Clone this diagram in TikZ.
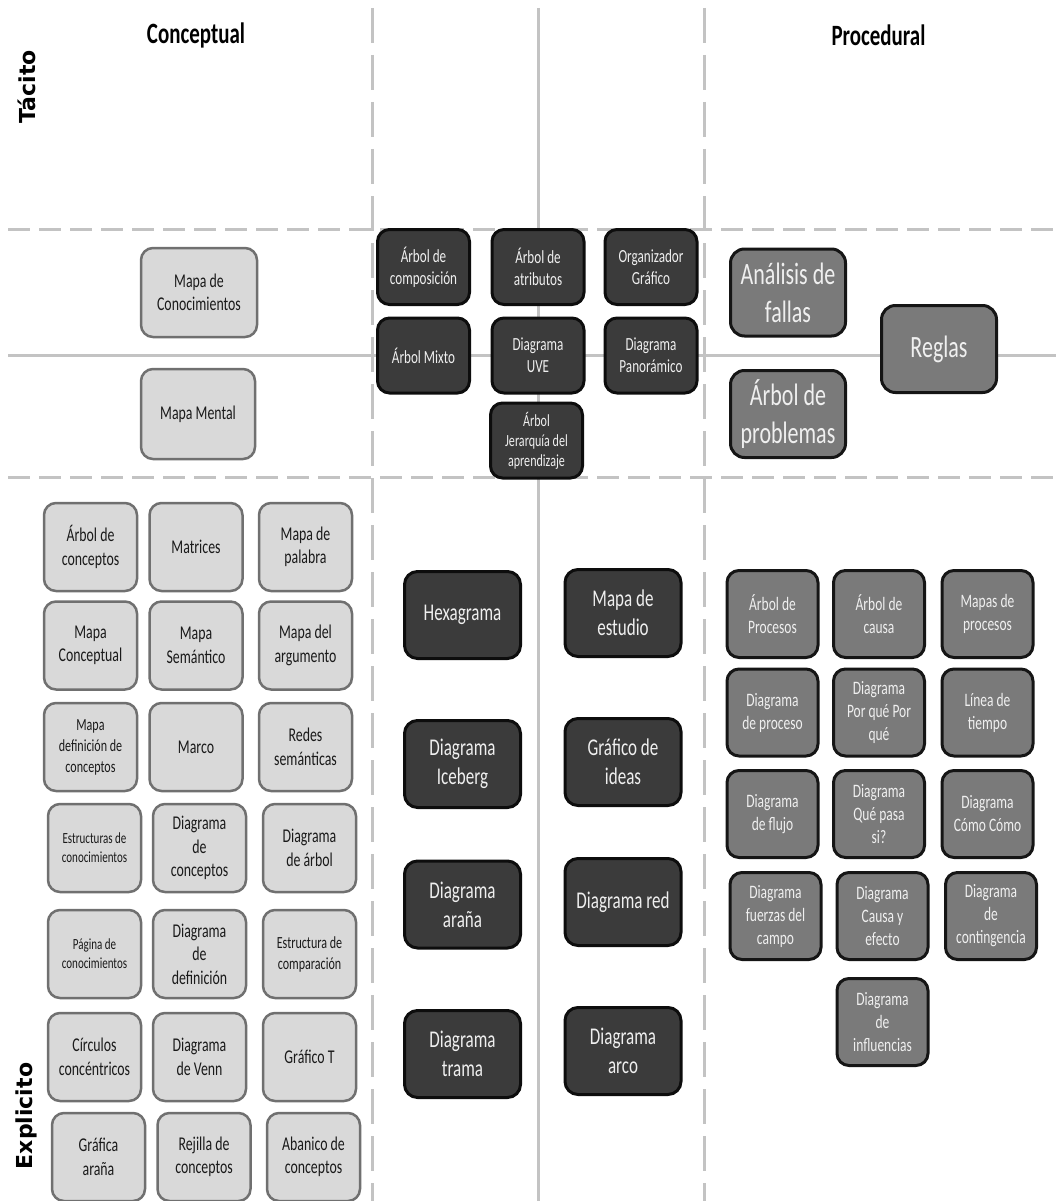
\documentclass[tikz,border=0pt]{standalone}
\usepackage{fontspec}
\setmainfont{Carlito}[FakeStretch=0.71]
\newfontfamily\labfont{DejaVu Sans}
\definecolor{lbfill}{HTML}{D9D9D9}
\definecolor{lbdraw}{HTML}{707070}
\definecolor{dkfill}{HTML}{3B3B3B}
\definecolor{dkdraw}{HTML}{0D0D0D}
\definecolor{mdfill}{HTML}{7A7A7A}
\definecolor{mddraw}{HTML}{151515}
\definecolor{gridline}{HTML}{C3C3C3}
\definecolor{txtdark}{HTML}{1A1A1A}
\definecolor{txtlight}{HTML}{EFEFEF}
\begin{document}
\begin{tikzpicture}[x=1pt,y=-1pt,
  hdash/.style={draw=gridline, line width=3pt, dash pattern=on 22pt off 9pt},
  vdash/.style={draw=gridline, line width=3pt, dash pattern=on 35pt off 12pt},
  solidline/.style={draw=gridline, line width=3pt},
  lbox/.style={draw=lbdraw, fill=lbfill, line width=2.5pt, rounded corners=12pt,
    minimum width=93pt, minimum height=88pt, align=center, text=txtdark, inner sep=1pt,
    font=\fontsize{19.5}{23.5}\selectfont},
  lsmall/.style={font=\fontsize{15.5}{19}\selectfont},
  lmid/.style={font=\fontsize{17}{21}\selectfont},
  dtop/.style={draw=dkdraw, fill=dkfill, line width=3pt, rounded corners=12pt,
    minimum width=92pt, minimum height=75pt, align=center, text=txtlight, inner sep=1pt,
    font=\fontsize{18.5}{22}\selectfont},
  dbig/.style={draw=dkdraw, fill=dkfill, line width=3pt, rounded corners=13pt,
    minimum width=116pt, minimum height=87pt, align=center, text=txtlight, inner sep=1pt,
    font=\fontsize{24}{29}\selectfont},
  mbig/.style={draw=mddraw, fill=mdfill, line width=3pt, rounded corners=14pt,
    minimum width=115pt, minimum height=87pt, align=center, text=txtlight, inner sep=1pt,
    font=\fontsize{31}{38}\selectfont},
  mbox/.style={draw=mddraw, fill=mdfill, line width=3pt, rounded corners=12pt,
    minimum width=91pt, minimum height=87pt, align=center, text=txtlight, inner sep=1pt,
    font=\fontsize{19}{23}\selectfont},
  title/.style={font=\fontsize{29.5}{34}\selectfont\bfseries, text=black},
  sidelab/.style={font=\labfont\fontsize{22}{26}\selectfont\bfseries, text=black, rotate=90}
]
\useasboundingbox (0,0) rectangle (1056,1201);
\fill[white] (0,0) rectangle (1056,1201);

% grid lines
\coordinate (hA1) at (8,229);   \coordinate (hA2) at (1056,229);
\coordinate (hB1) at (8,355);   \coordinate (hB2) at (1056,355);
\coordinate (hC1) at (8,477);   \coordinate (hC2) at (1056,477);
\coordinate (vA1) at (372,8);   \coordinate (vA2) at (372,1201);
\coordinate (vB1) at (538,8);   \coordinate (vB2) at (538,1201);
\coordinate (vC1) at (704.5,8); \coordinate (vC2) at (704.5,1201);
\draw[hdash] (hA1) -- (hA2);
\draw[solidline] (hB1) -- (hB2);
\draw[hdash] (hC1) -- (hC2);
\draw[vdash] (vA1) -- (vA2);
\draw[solidline] (vB1) -- (vB2);
\draw[vdash] (vC1) -- (vC2);

% titles
\node[title] (tConc) at (196,35) {Conceptual};
\node[title] (tProc) at (878.5,35) {Procedural};
\node[sidelab] (tTac) at (27,87) {Tácito};
\node[sidelab] (tExp) at (26,1116) {Explicito};

% tacit-explicit light boxes
\node[lbox, minimum width=116pt, minimum height=89pt] (mapcon) at (199,292.5) {Mapa de\\Conocimientos};
\node[lbox, minimum width=114pt, minimum height=90pt] (mapmen) at (198,414) {Mapa Mental};

% central top dark boxes
\node[dtop] (arbcomp) at (423.5,267) {Árbol de\\composición};
\node[dtop] (arbatr) at (538,267) {Árbol de\\atributos};
\node[dtop] (orggraf) at (651,267) {Organizador\\Gráfico};
\node[dtop] (arbmix) at (423.5,355.5) {Árbol Mixto};
\node[dtop] (diauve) at (538,355.5) {Diagrama\\UVE};
\node[dtop] (diapan) at (651,355.5) {Diagrama\\Panorámico};
\node[dtop, font=\fontsize{17}{20}\selectfont] (arbjer) at (536.5,440.5) {Árbol\\Jerarquía del\\aprendizaje};

% procedural medium boxes
\node[mbig] (anfal) at (788,292.5) {Análisis de\\fallas};
\node[mbig] (arbprob) at (788,414) {Árbol de\\problemas};
\node[mbig] (reglas) at (939,349) {Reglas};

% explicit conceptual grid
\node[lbox] (c11) at (90.5,547) {Árbol de\\conceptos};
\node[lbox] (c12) at (196,547) {Matrices};
\node[lbox] (c13) at (305.5,547) {Mapa de\\palabra};
\node[lbox] (c21) at (90.5,645.5) {Mapa\\Conceptual};
\node[lbox] (c22) at (196,645.5) {Mapa\\Semántico};
\node[lbox] (c23) at (305.5,645.5) {Mapa del\\argumento};
\node[lbox, lmid] (c31) at (90.5,747) {Mapa\\definición de\\conceptos};
\node[lbox] (c32) at (196,747) {Marco};
\node[lbox] (c33) at (305.5,747) {Redes\\semánticas};
\node[lbox, lsmall] (c41) at (94.5,848) {Estructuras de\\conocimientos};
\node[lbox] (c42) at (199.5,848) {Diagrama\\de\\conceptos};
\node[lbox] (c43) at (309.5,848) {Diagrama\\de árbol};
\node[lbox, lsmall] (c51) at (94.5,954) {Página de\\conocimientos};
\node[lbox] (c52) at (199.5,954) {Diagrama\\de\\definición};
\node[lbox, lmid] (c53) at (309.5,954) {Estructura de\\comparación};
\node[lbox] (c61) at (94.5,1057) {Círculos\\concéntricos};
\node[lbox] (c62) at (199.5,1057) {Diagrama\\de Venn};
\node[lbox] (c63) at (309.5,1057) {Gráfico T};
\node[lbox] (c71) at (98.5,1157) {Gráfica\\araña};
\node[lbox] (c72) at (204,1157) {Rejilla de\\conceptos};
\node[lbox] (c73) at (313.5,1157) {Abanico de\\conceptos};

% central explicit dark boxes
\node[dbig] (hexa) at (462.5,615) {Hexagrama};
\node[dbig] (iceb) at (462.5,764) {Diagrama\\Iceberg};
\node[dbig] (arana) at (462.5,904.5) {Diagrama\\araña};
\node[dbig] (trama) at (462.5,1054) {Diagrama\\trama};
\node[dbig] (estud) at (623,613) {Mapa de\\estudio};
\node[dbig] (ideas) at (623,762) {Gráfico de\\ideas};
\node[dbig] (red) at (623,902) {Diagrama red};
\node[dbig] (arco) at (623,1051) {Diagrama\\arco};

% procedural explicit grid
\node[mbox] (p11) at (772.5,614) {Árbol de\\Procesos};
\node[mbox] (p12) at (879,614) {Árbol de\\causa};
\node[mbox] (p13) at (987.5,614) {Mapas de\\procesos};
\node[mbox] (p21) at (772.5,712.5) {Diagrama\\de proceso};
\node[mbox] (p22) at (879,712.5) {Diagrama\\Por qué Por\\qué};
\node[mbox] (p23) at (987.5,712.5) {Línea de\\tiempo};
\node[mbox] (p31) at (772.5,814) {Diagrama\\de flujo};
\node[mbox] (p32) at (879,814) {Diagrama\\Qué pasa\\si?};
\node[mbox] (p33) at (987.5,814) {Diagrama\\Cómo Cómo};
\node[mbox] (p41) at (775.5,916) {Diagrama\\fuerzas del\\campo};
\node[mbox] (p42) at (882.5,916) {Diagrama\\Causa y\\efecto};
\node[mbox] (p43) at (991,916) {Diagrama\\de\\contingencia};
\node[mbox] (p51) at (882.5,1022) {Diagrama\\de\\influencias};
\end{tikzpicture}
\end{document}
